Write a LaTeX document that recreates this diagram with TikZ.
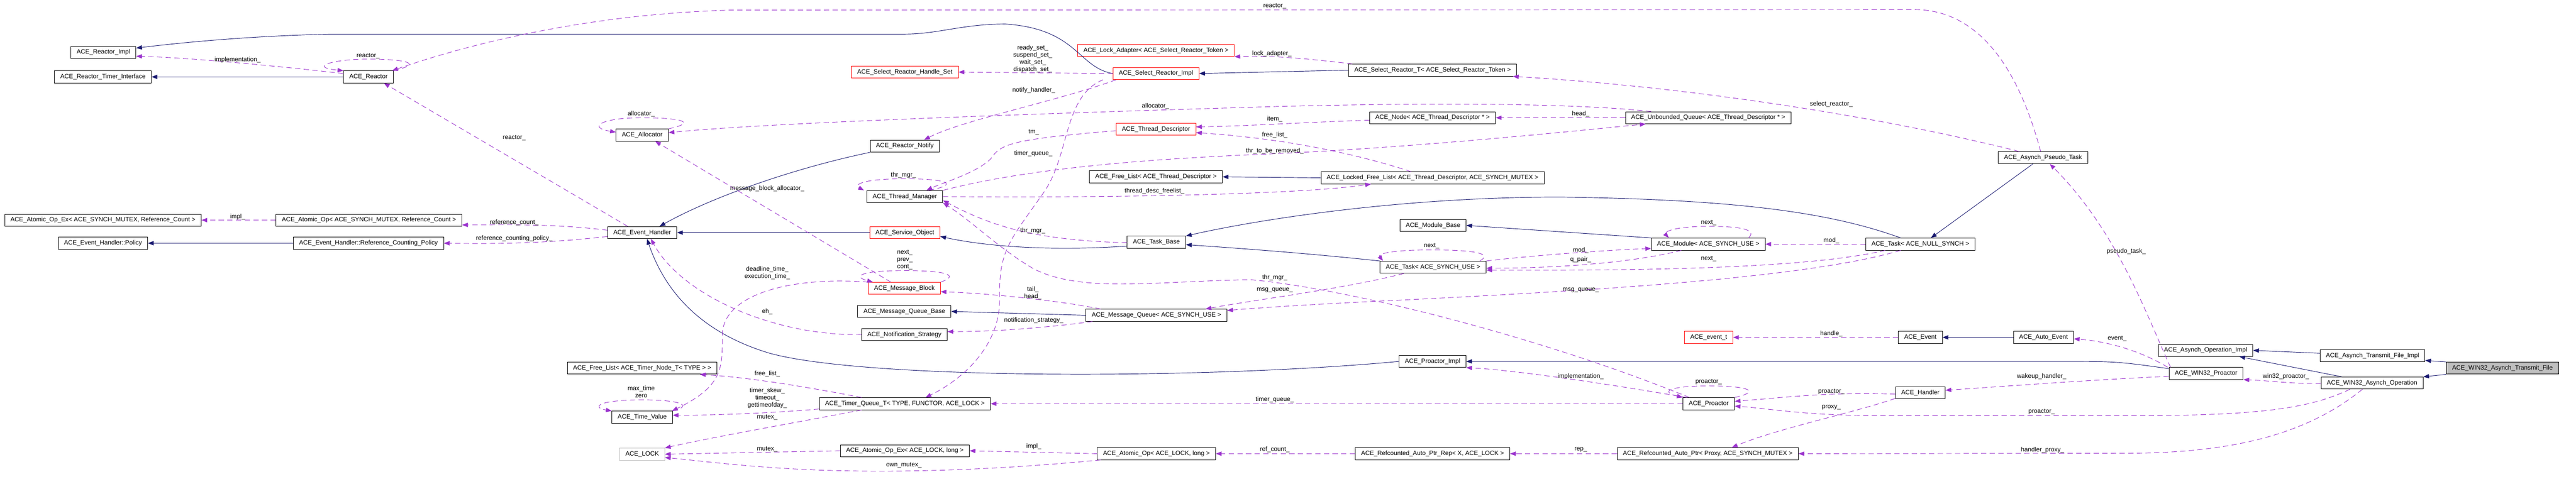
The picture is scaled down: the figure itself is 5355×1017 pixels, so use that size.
\documentclass[tikz,border=0pt]{standalone}
\usepackage{fontspec}
\setmainfont{Liberation Sans}
\usetikzlibrary{arrows.meta}
\definecolor{inhblue}{HTML}{191970}
\definecolor{usepurple}{HTML}{9A32CD}
\definecolor{extgrey}{HTML}{BFBFBF}
\tikzset{
   cls/.style={draw=black, line width=1pt, minimum height=25pt, inner xsep=12pt, inner ysep=0pt,
      font=\fontsize{13}{15}\selectfont},
   clsmissing/.style={cls, draw=red},
   clsext/.style={cls, draw=extgrey},
   clsself/.style={cls, fill=extgrey},
   inherit/.style={draw=inhblue, line width=1pt, -{Triangle[length=12pt,width=9pt]}},
   member/.style={draw=usepurple, line width=1pt, dash pattern=on 11pt off 7pt,
      -{Triangle[length=12pt,width=9pt]}},
   lbl/.style={inner sep=0pt, align=center, font=\fontsize{13}{15}\selectfont},
    }
\begin{document}
\begin{tikzpicture}[x=1pt, y=-1pt]
        \useasboundingbox (0,0) rectangle (5355,1017);
        \node[cls] (rimpl) at (215,109) {ACE\_Reactor\_Impl};
        \node[cls] (rti) at (214,160) {ACE\_Reactor\_Timer\_Interface};
        \node[cls] (reactor) at (766,160) {ACE\_Reactor};
        \node[cls] (aoexrc) at (214,458) {ACE\_Atomic\_Op\_Ex< ACE\_SYNCH\_MUTEX, Reference\_Count >};
        \node[cls] (aorc) at (767,458) {ACE\_Atomic\_Op< ACE\_SYNCH\_MUTEX, Reference\_Count >};
        \node[cls] (policy) at (214,506) {ACE\_Event\_Handler::Policy};
        \node[cls] (rcp) at (766,506) {ACE\_Event\_Handler::Reference\_Counting\_Policy};
        \node[cls] (alloc) at (1335,281) {ACE\_Allocator};
        \node[cls] (eh) at (1335,484) {ACE\_Event\_Handler};
        \node[cls] (fltimer) at (1335,766) {ACE\_Free\_List< ACE\_Timer\_Node\_T< TYPE > >};
        \node[cls] (tv) at (1335,868) {ACE\_Time\_Value};
        \node[clsext] (lock) at (1335,945) {ACE\_LOCK};
        \node[clsmissing] (srhs) at (1881,150) {ACE\_Select\_Reactor\_Handle\_Set};
        \node[cls] (notify) at (1881,304) {ACE\_Reactor\_Notify};
        \node[cls] (tm) at (1881,409) {ACE\_Thread\_Manager};
        \node[clsmissing] (so) at (1881,484) {ACE\_Service\_Object};
        \node[clsmissing] (mb) at (1880,600) {ACE\_Message\_Block};
        \node[cls] (mqb) at (1880,648) {ACE\_Message\_Queue\_Base};
        \node[cls] (ns) at (1880,696) {ACE\_Notification\_Strategy};
        \node[cls] (tq) at (1881,840) {ACE\_Timer\_Queue\_T< TYPE, FUNCTOR, ACE\_LOCK >};
        \node[cls] (aoexl) at (1881,938) {ACE\_Atomic\_Op\_Ex< ACE\_LOCK, long >};
        \node[clsmissing] (la) at (2403,105) {ACE\_Lock\_Adapter< ACE\_Select\_Reactor\_Token >};
        \node[clsmissing] (sri) at (2403,153) {ACE\_Select\_Reactor\_Impl};
        \node[clsmissing] (td) at (2403,269) {ACE\_Thread\_Descriptor};
        \node[cls] (fltd) at (2403,368) {ACE\_Free\_List< ACE\_Thread\_Descriptor >};
        \node[cls] (tb) at (2404,504) {ACE\_Task\_Base};
        \node[cls] (mq) at (2404,656) {ACE\_Message\_Queue< ACE\_SYNCH\_USE >};
        \node[cls] (aol) at (2404,944) {ACE\_Atomic\_Op< ACE\_LOCK, long >};
        \node[cls] (srt) at (2978,146) {ACE\_Select\_Reactor\_T< ACE\_Select\_Reactor\_Token >};
        \node[cls] (tdnode) at (2978,245) {ACE\_Node< ACE\_Thread\_Descriptor * >};
        \node[cls] (lfl) at (2978,370) {ACE\_Locked\_Free\_List< ACE\_Thread\_Descriptor, ACE\_SYNCH\_MUTEX >};
        \node[cls] (mbase) at (2979,469) {ACE\_Module\_Base};
        \node[cls] (tasksu) at (2979,556) {ACE\_Task< ACE\_SYNCH\_USE >};
        \node[cls] (pimpl) at (2978,752) {ACE\_Proactor\_Impl};
        \node[cls] (rep) at (2978,944) {ACE\_Refcounted\_Auto\_Ptr\_Rep< X, ACE\_LOCK >};
        \node[cls] (uq) at (3551,245) {ACE\_Unbounded\_Queue< ACE\_Thread\_Descriptor * >};
        \node[cls] (mod) at (3551,508) {ACE\_Module< ACE\_SYNCH\_USE >};
        \node[clsmissing] (evt) at (3552,702) {ACE\_event\_t};
        \node[cls] (pro) at (3552,840) {ACE\_Proactor};
        \node[cls] (rap) at (3550,944) {ACE\_Refcounted\_Auto\_Ptr< Proxy, ACE\_SYNCH\_MUTEX >};
        \node[cls] (taskns) at (3992,508) {ACE\_Task< ACE\_NULL\_SYNCH >};
        \node[cls] (event) at (3992,702) {ACE\_Event};
        \node[cls] (handler) at (3992,817) {ACE\_Handler};
        \node[cls] (apt) at (4247,328) {ACE\_Asynch\_Pseudo\_Task};
        \node[cls] (autoev) at (4248,702) {ACE\_Auto\_Event};
        \node[cls] (aoi) at (4585,729) {ACE\_Asynch\_Operation\_Impl};
        \node[cls] (wproactor) at (4586,777) {ACE\_WIN32\_Proactor};
        \node[cls] (atfi) at (4932,740) {ACE\_Asynch\_Transmit\_File\_Impl};
        \node[cls] (wao) at (4931,797) {ACE\_WIN32\_Asynch\_Operation};
        \node[clsself] (watf) at (5202,766) {ACE\_WIN32\_Asynch\_Transmit\_File};

        \draw[inherit] (sri.west) .. controls (2240,140) and (2240,60) .. (2090,50)
           .. controls (2000,50) and (1950,71) .. (1880,71) -- (690,71)
           .. controls (500,75) and (350,92) .. ([yshift=9pt]rimpl.east);
        \draw[inherit] (reactor.west) -- (rti.east);
        \draw[inherit] (rcp.west) -- (policy.east);
        \draw[inherit] (notify.south west) .. controls (1650,350) and (1480,410) .. ([xshift=36pt]eh.north);
        \draw[inherit] (so.west) -- (eh.east);
        \draw[inherit] (pimpl.west) .. controls (2500,790) and (1800,790) .. (1600,735)
           .. controls (1450,690) and (1380,600) .. ([xshift=10pt]eh.south);
        \draw[inherit] (srt.west) -- (sri.east);
        \draw[inherit] (lfl.west) -- (fltd.east);
        \draw[inherit] ([xshift=-41pt]taskns.north) .. controls (3800,440) and (3600,415) .. (3243,410)
           .. controls (2900,410) and (2600,460) .. (tb.north east);
        \draw[inherit] (tasksu.north west) .. controls (2700,525) and (2550,515) .. ([yshift=-5pt]tb.east);
        \draw[inherit] ([yshift=-8pt]tb.west) .. controls (2200,522) and (2060,515) .. ([yshift=-8pt]so.east);
        \draw[inherit] (mq.west) -- (mqb.east);
        \draw[inherit] (mod.north west) -- (mbase.east);
        \draw[inherit] ([xshift=-21pt]apt.south) -- ([xshift=22pt]taskns.north);
        \draw[inherit] ([yshift=10pt]wproactor.west) .. controls (4400,752) .. (4283,752) -- (pimpl.east);
        \draw[inherit] (autoev.west) -- (event.east);
        \draw[inherit] ([yshift=5pt]atfi.west) -- (aoi.east);
        \draw[inherit] ([xshift=-63pt]wao.north) -- ([xshift=70pt]aoi.south);
        \draw[inherit] (watf.north west) -- ([yshift=-10pt]atfi.east);
        \draw[inherit] (watf.south west) -- (wao.north east);

        \draw[member] ([yshift=7pt]reactor.west) .. controls (600,140) and (400,120) .. ([yshift=-8pt]rimpl.east);
        \node[lbl] (limpl) at (494,125) {implementation\_};
        \draw[member] (reactor.north east) .. controls (890,130) and (830,123) .. (765,123)
           .. controls (690,123) and (640,140) .. (reactor.north west);
        \node[lbl] (lreactor) at (765,116) {reactor\_};
        \draw[member] ([xshift=-5pt]apt.north) .. controls (4190,120) and (4100,20) .. (3980,20) -- (1520,21)
           .. controls (1200,30) and (950,100) .. ([xshift=-3pt]reactor.north east);
        \node[lbl] (lreactortop) at (2650,13) {reactor\_};
        \draw[member] ([xshift=-30pt]eh.north) -- ([xshift=32pt]reactor.south);
        \node[lbl] (lreactoreh) at (1069,287) {reactor\_};
        \draw[member] (aorc.west) -- (aoexrc.east);
        \node[lbl] (limplrc) at (494,451) {impl\_};
        \draw[member] ([yshift=5pt]eh.west) .. controls (1150,465) and (1050,468) .. ([yshift=-10pt]aorc.east);
        \node[lbl] (lrefcount) at (1069,463) {reference\_count\_};
        \draw[member] ([yshift=-8pt]eh.west) .. controls (1150,505) and (1050,508) .. (rcp.east);
        \node[lbl] (lrcpolicy) at (1069,496) {reference\_counting\_policy\_};
        \draw[member] (alloc.north east) .. controls (1450,255) and (1420,245) .. (1333,245)
           .. controls (1250,245) and (1220,265) .. ([yshift=6pt]alloc.west);
        \node[lbl] (lallocself) at (1333,237) {allocator\_};
        \draw[member] ([xshift=-119pt]uq.north) .. controls (3250,212) and (2900,215) .. (2640,222)
           .. controls (2200,235) and (1600,255) .. ([yshift=5pt]alloc.east);
        \node[lbl] (lalloc) at (2402,221) {allocator\_};
        \draw[member] ([xshift=-28pt]mb.north) -- ([xshift=27pt]alloc.south);
        \node[lbl] (lmballoc) at (1595,392) {message\_block\_allocator\_};
        \draw[member] (ns.west) .. controls (1620,700) and (1420,620) .. ([xshift=18pt]eh.south);
        \node[lbl] (leh) at (1595,648) {eh\_};
        \draw[member] (mb.north west) .. controls (1650,575) and (1510,610) .. (1502,690)
           .. controls (1500,760) and (1510,800) .. ([xshift=62pt]tv.north);
        \node[lbl] (ldeadline) at (1595,568) {deadline\_time\_\\execution\_time\_};
        \draw[member] (mb.north east) .. controls (1990,575) and (1980,563) .. (1880,563)
           .. controls (1790,563) and (1770,575) .. ([xshift=10pt]mb.north west);
        \node[lbl] (lnext) at (1881,541) {next\_\\prev\_\\cont\_};
        \draw[member] (tv.north east) .. controls (1440,845) and (1420,832) .. (1335,832)
           .. controls (1240,832) and (1230,848) .. (tv.north west);
        \node[lbl] (lmaxtime) at (1333,815) {max\_time\\zero};
        \draw[member] ([yshift=-11pt]tq.west) .. controls (1600,860) and (1480,864) .. ([yshift=4pt]tv.east);
        \node[lbl] (lskew) at (1595,828) {timer\_skew\_\\timeout\_\\gettimeofday\_};
        \draw[member] ([xshift=-90pt]tq.north) .. controls (1650,800) and (1550,785) .. ([xshift=120pt]fltimer.south);
        \node[lbl] (lfreelist) at (1595,778) {free\_list\_};
        \draw[member] ([xshift=-90pt]tq.south) .. controls (1650,880) and (1480,910) .. (lock.north east);
        \node[lbl] (lmutextq) at (1595,868) {mutex\_};
        \draw[member] (aoexl.west) -- (lock.east);
        \node[lbl] (lmutex) at (1595,935) {mutex\_};
        \draw[member] ([xshift=-116pt]aol.south) .. controls (2100,975) and (1900,985) .. (1700,978)
           .. controls (1550,972) and (1450,958) .. ([yshift=-7pt]lock.east);
        \node[lbl] (lownmutex) at (1879,968) {own\_mutex\_};
        \draw[member] (sri.west) -- (srhs.east);
        \node[lbl] (lsets) at (2147,122) {ready\_set\_\\suspend\_set\_\\wait\_set\_\\dispatch\_set\_};
        \draw[member] ([xshift=-167pt]srt.north) .. controls (2720,122) and (2640,115) .. (la.south east);
        \node[lbl] (llock) at (2644,112) {lock\_adapter\_};
        \draw[member] ([xshift=-83pt]sri.south) .. controls (2200,210) and (2000,250) .. ([xshift=40pt]notify.north);
        \node[lbl] (lnotify) at (2149,188) {notify\_handler\_};
        \draw[member] ([xshift=-110pt]sri.south) .. controls (2210,200) and (2225,320) .. (2170,400)
           .. controls (2100,500) and (2076,520) .. (2078,620)
           .. controls (2080,720) and (2000,790) .. ([xshift=43pt]tq.north);
        \node[lbl] (ltimerq) at (2148,320) {timer\_queue\_};
        \draw[member] ([yshift=-3pt]td.west) .. controls (2100,290) and (2080,300) .. (2060,330)
           .. controls (2030,360) and (1960,380) .. ([xshift=45pt]tm.north);
        \node[lbl] (ltm) at (2149,275) {tm\_};
        \draw[member] ([yshift=-5pt]tdnode.west) .. controls (2700,255) and (2600,262) .. ([yshift=5pt]td.east);
        \node[lbl] (litem) at (2650,248) {item\_};
        \draw[member] ([xshift=-45pt]lfl.north) .. controls (2850,330) and (2700,290) .. ([yshift=-7pt]td.east);
        \node[lbl] (lfreetd) at (2650,281) {free\_list\_};
        \draw[member] (tm.north east) .. controls (2100,360) and (2300,335) .. (2600,322)
           .. controls (2900,310) and (3200,280) .. ([xshift=-130pt]uq.south);
        \node[lbl] (lremoved) at (2650,314) {thr\_to\_be\_removed\_};
        \draw[member] (tm.east) .. controls (2300,412) and (2700,405) .. ([xshift=-128pt]lfl.south);
        \node[lbl] (ldescfree) at (2400,398) {thread\_desc\_freelist\_};
        \draw[member] ([xshift=50pt]tm.north) .. controls (1990,385) and (1980,372) .. (1880,372)
           .. controls (1790,372) and (1775,385) .. ([xshift=-85pt]tm.north);
        \node[lbl] (lthrself) at (1878,365) {thr\_mgr\_};
        \draw[member] ([yshift=-1pt]tb.west) .. controls (2150,500) and (2060,470) .. ([yshift=-8pt]tm.east);
        \node[lbl] (lthrtb) at (2147,480) {thr\_mgr\_};
        \draw[member] ([xshift=-40pt]pro.north) .. controls (3200,700) and (2800,600) .. (2600,582)
           .. controls (2400,585) and (2250,610) .. (2150,560)
           .. controls (2080,520) and (2020,460) .. (tm.south east);
        \node[lbl] (lthrpro) at (2650,578) {thr\_mgr\_};
        \draw[member] ([xshift=-116pt]mq.north) .. controls (2200,625) and (2050,610) .. ([yshift=-7pt]mb.east);
        \node[lbl] (ltail) at (2147,610) {tail\_\\head\_};
        \draw[member] ([xshift=-133pt]mq.south) .. controls (2150,685) and (2050,690) .. ([yshift=6pt]ns.east);
        \node[lbl] (lnotif) at (2149,667) {notification\_strategy\_};
        \draw[member] ([xshift=-61pt]tasksu.south) .. controls (2800,600) and (2600,625) .. ([xshift=102pt]mq.north);
        \node[lbl] (lmsgsu) at (2650,603) {msg\_queue\_};
        \draw[member] ([xshift=-41pt]taskns.south) .. controls (3750,580) and (3300,605) .. (2900,625)
           .. controls (2750,632) and (2620,640) .. ([yshift=10pt]mq.east);
        \node[lbl] (lmsgns) at (3286,603) {msg\_queue\_};
        \draw[member] (pro.west) -- (tq.east);
        \node[lbl] (ltimerpro) at (2650,831) {timer\_queue\_};
        \draw[member] (aol.west) -- (aoexl.east);
        \node[lbl] (limpll) at (2149,929) {impl\_};
        \draw[member] (rep.west) -- (aol.east);
        \node[lbl] (lrefc) at (2650,935) {ref\_count\_};
        \draw[member] (uq.west) -- (tdnode.east);
        \node[lbl] (lhead) at (3286,237) {head\_};
        \draw[member] ([xshift=-50pt]apt.north) .. controls (3900,240) and (3500,180) .. ([xshift=167pt]srt.south);
        \node[lbl] (lselect) at (3807,217) {select\_reactor\_};
        \draw[member] ([xshift=84pt]mod.north) .. controls (3650,480) and (3630,471) .. (3552,471)
           .. controls (3470,471) and (3460,485) .. ([xshift=-82pt]mod.north);
        \node[lbl] (lnextmod) at (3552,463) {next\_};
        \draw[member] ([xshift=97pt]tasksu.north) .. controls (3100,530) and (3080,520) .. (2976,520)
           .. controls (2880,520) and (2865,530) .. ([xshift=-104pt]tasksu.north);
        \node[lbl] (lnextsu) at (2976,512) {next\_};
        \draw[member] (tasksu.north east) .. controls (3200,530) and (3350,520) .. ([yshift=-9pt]mod.west);
        \node[lbl] (lmodsu) at (3286,521) {mod\_};
        \draw[member] ([xshift=-56pt]mod.south) .. controls (3400,545) and (3250,558) .. ([yshift=-2pt]tasksu.east);
        \node[lbl] (lqpair) at (3286,540) {q\_pair\_};
        \draw[member] ([xshift=-73pt]taskns.south) .. controls (3750,560) and (3400,563) .. ([yshift=-6pt]tasksu.east);
        \node[lbl] (lnextns) at (3552,539) {next\_};
        \draw[member] (taskns.west) -- (mod.east);
        \node[lbl] (lmodns) at (3807,500) {mod\_};
        \draw[member] ([xshift=8pt]pro.north west) .. controls (3350,800) and (3150,770) .. (pimpl.south east);
        \node[lbl] (limplpro) at (3286,783) {implementation\_};
        \draw[member] (pro.north east) .. controls (3660,815) and (3640,803) .. (3552,803)
           .. controls (3470,803) and (3450,815) .. (pro.north west);
        \node[lbl] (lproself) at (3552,795) {proactor\_};
        \draw[member] ([yshift=-3pt]handler.west) .. controls (3800,815) and (3700,828) .. ([yshift=5pt]pro.east);
        \node[lbl] (lprohandler) at (3807,815) {proactor\_};
        \draw[member] ([xshift=-46pt]wao.south) .. controls (4800,850) and (4700,865) .. (4420,865) -- (3922,865)
           .. controls (3750,865) and (3680,850) .. ([yshift=-5pt]pro.east);
        \node[lbl] (lprowao) at (4244,857) {proactor\_};
        \draw[member] ([yshift=-12pt]handler.west) .. controls (3850,860) and (3700,890) .. ([xshift=50pt]rap.north);
        \node[lbl] (lproxy) at (3807,848) {proxy\_};
        \draw[member] ([yshift=-6pt]wproactor.west) .. controls (4350,790) and (4150,805) .. ([yshift=5pt]handler.east);
        \node[lbl] (lwakeup) at (4244,783) {wakeup\_handler\_};
        \draw[member] (event.west) -- (evt.east);
        \node[lbl] (lhandle) at (3807,694) {handle\_};
        \draw[member] ([xshift=-80pt]wproactor.north) .. controls (4450,730) and (4380,710) .. ([yshift=-3pt]autoev.east);
        \node[lbl] (levent) at (4401,705) {event\_};
        \draw[member] ([xshift=-74pt]wproactor.north) .. controls (4460,650) and (4400,480) .. ([xshift=14pt]apt.south);
        \node[lbl] (lpseudo) at (4420,523) {pseudo\_task\_};
        \draw[member] ([yshift=-1pt]wao.west) .. controls (4750,798) and (4720,792) .. (wproactor.south east);
        \node[lbl] (lw32pro) at (4752,783) {win32\_proactor\_};
        \draw[member] ([xshift=-20pt]wao.south) .. controls (4800,900) and (4650,943) .. (4420,943) -- (rap.east);
        \node[lbl] (lhproxy) at (4246,936) {handler\_proxy\_};
        \draw[member] (rap.west) -- (rep.east);
        \node[lbl] (lrep) at (3286,935) {rep\_};
\end{tikzpicture}
\end{document}
